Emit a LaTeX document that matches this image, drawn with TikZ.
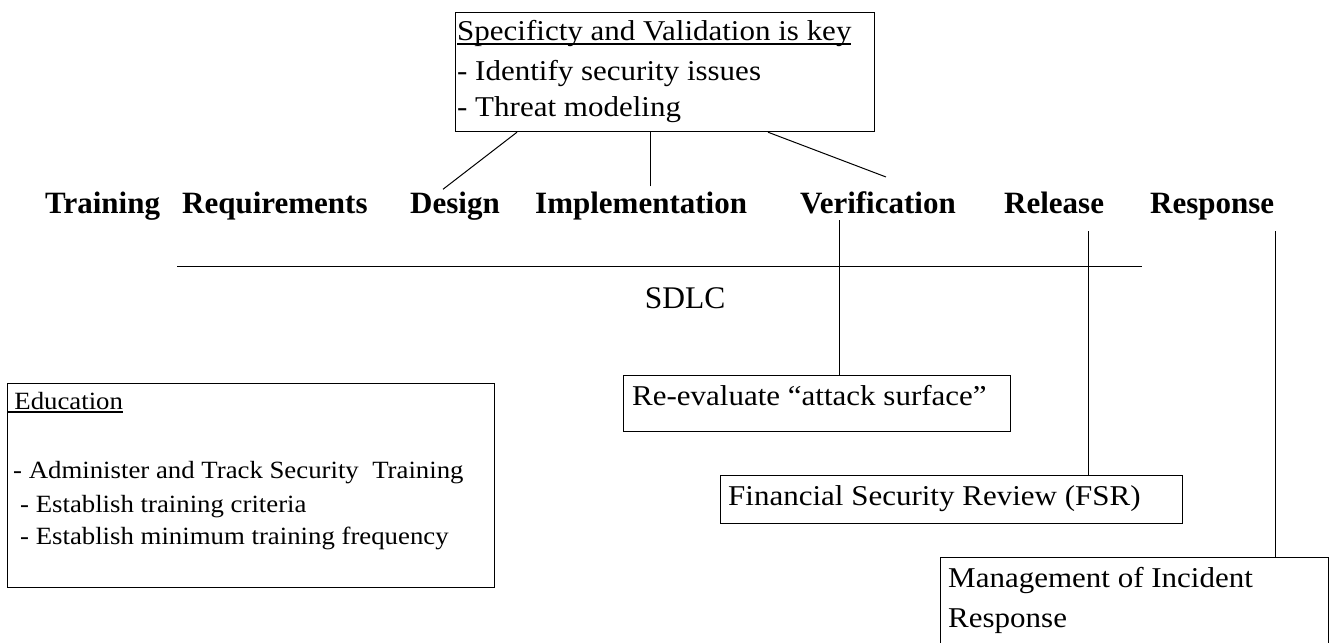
\documentclass[tikz,border=0pt]{standalone}
\usepackage{fontspec}
\setmainfont{Liberation Serif}[FakeStretch=1.08]
\newfontfamily\plainserif{Liberation Serif}
\usetikzlibrary{calc}
\newcommand\ulx[1]{\leavevmode\setbox0\hbox{#1}\rlap{\rule[-3.8pt]{\wd0}{1.4pt}}\box0}
\begin{document}
\begin{tikzpicture}[x=1pt,y=-1pt,
  box/.style={draw, line width=1.2pt, anchor=north west, inner sep=0pt},
  big/.style={font=\fontsize{28.7}{34}\selectfont, anchor=base west, inner sep=0pt},
  phase/.style={font=\plainserif\fontsize{31}{36}\selectfont\bfseries, anchor=base west, inner sep=0pt},
  small/.style={font=\fontsize{24.8}{30}\selectfont, anchor=base west, inner sep=0pt},
  conn/.style={line width=1pt}]
\useasboundingbox (0,0) rectangle (1329,642);
\clip (0,0) rectangle (1329,642);

% boxes
\node[box, minimum width=419pt, minimum height=119pt] (top) at (455,12) {};
\node[box, minimum width=487pt, minimum height=204pt] (edu) at (7,383) {};
\node[box, minimum width=387pt, minimum height=56pt] (reeval) at (623,375) {};
\node[box, minimum width=462pt, minimum height=48pt] (fsr) at (720,475) {};
\node[box, minimum width=388pt, minimum height=100pt] (mgmt) at (940,557) {};

% top box text
\node[big] (t1) at (457,41) {\ulx{Specificty and Validation is key}};
\node[big] (t2) at (457,80) {- Identify security issues};
\node[big] (t3) at (457,116) {- Threat modeling};

% phases
\node[phase] (training) at (45,213) {Training};
\node[phase] (req) at (182,213) {Requirements};
\node[phase] (design) at (410,213) {Design};
\node[phase] (impl) at (535,213) {Implementation};
\node[phase] (verif) at (800,213) {Verification};
\node[phase] (release) at (1004,213) {Release};
\node[phase] (response) at (1150,213) {Response};

% SDLC axis
\coordinate (axL) at (177,266);
\coordinate (axR) at (1142,266);
\draw[conn] (axL) -- (axR);
\node[font=\plainserif\fontsize{31.5}{36}\selectfont, anchor=base, inner sep=0pt] (sdlc) at (685,308) {SDLC};

% education text
\node[small] (e1) at (7.5,409) {\ulx{\ Education}};
\node[small] (e2) at (13,478) {- Administer and Track Security\ \ Training};
\node[small] (e3) at (20,512) {- Establish training criteria};
\node[small] (e4) at (20,544) {- Establish minimum training frequency};

% other box texts
\node[big] (r1) at (632,405) {Re-evaluate “attack surface”};
\node[big] (f1) at (728,505) {Financial Security Review (FSR)};
\node[big] (m1) at (948,587) {Management of Incident};
\node[big] (m2) at (948,627) {Response};

% connectors from top box
\draw[conn] ($(top.south west)+(62,0)$) -- ($(design.north)+(-12,-2)$);
\coordinate (i1) at ($(impl.north)+(9,-5)$);
\draw[conn] (i1) -- (i1 |- top.south);
\draw[conn] ($(top.south west)+(313,0)$) -- ($(verif.north)+(8,-14)$);

% connectors down to boxes
\coordinate (vTop) at (839,220);
\draw[conn] (vTop) -- (vTop |- reeval.north);
\coordinate (relTop) at (1088,231);
\draw[conn] (relTop) -- (relTop |- fsr.north);
\coordinate (resTop) at (1275,231);
\draw[conn] (resTop) -- (resTop |- mgmt.north);
\end{tikzpicture}
\end{document}
